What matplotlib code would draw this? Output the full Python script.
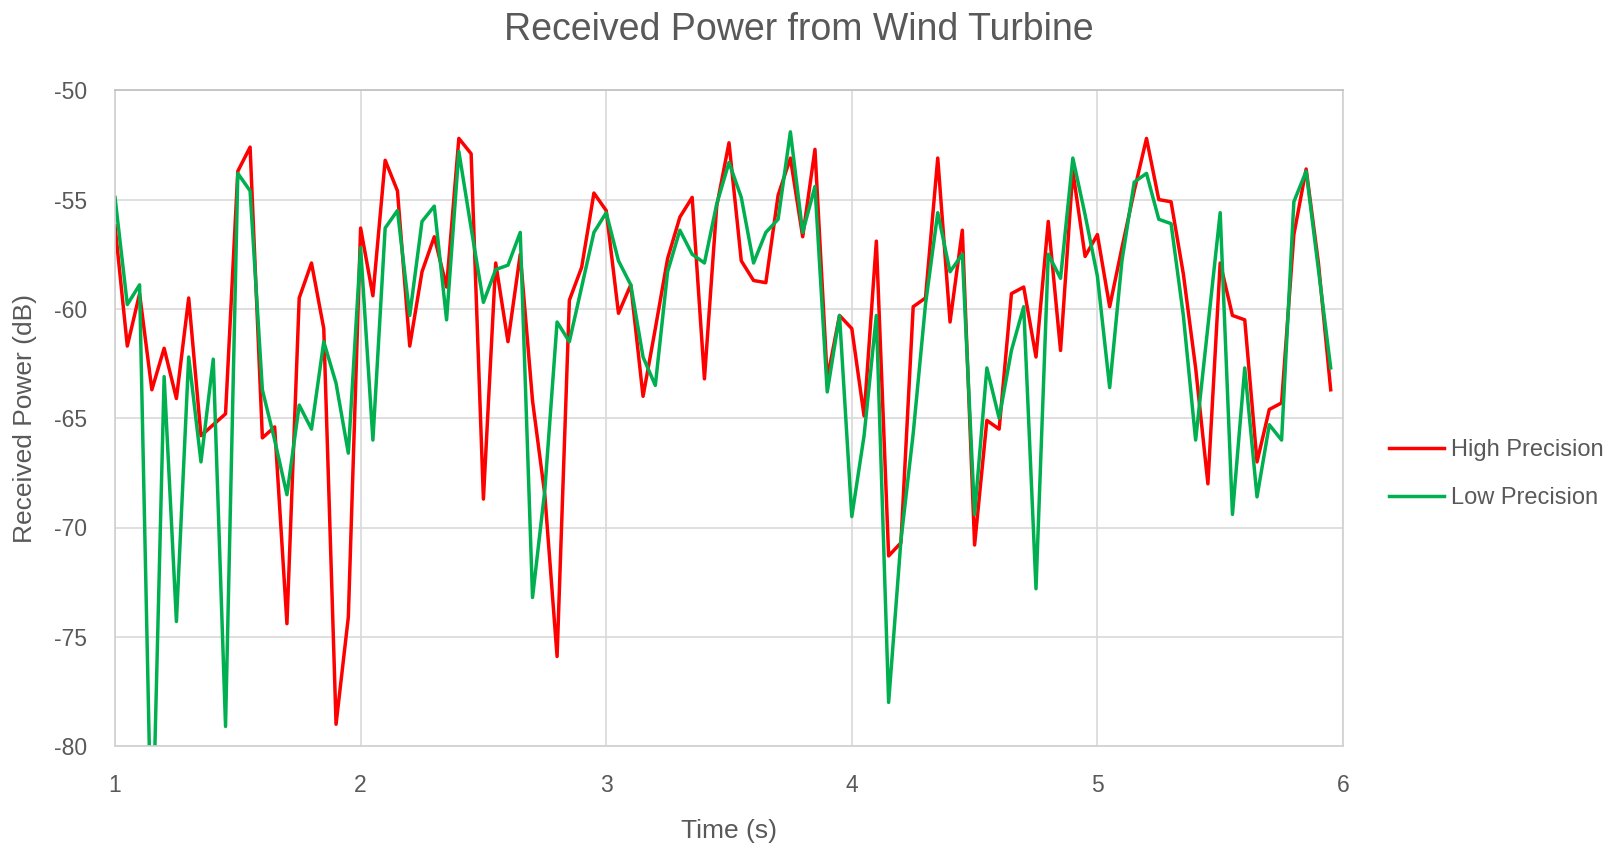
import matplotlib
matplotlib.use("Agg")
import matplotlib.pyplot as plt
import numpy as np

plt.rcParams['font.family'] = ['Liberation Sans', 'DejaVu Sans']
plt.rcParams['axes.unicode_minus'] = False

# time axis: 1.00 .. 5.95 s in 0.05 s steps
time_s = np.round(np.arange(100) * 0.05 + 1.0, 2)

high_precision = [
    -56.2, -61.7, -59.3, -63.7, -61.8, -64.1, -59.5, -65.8, -65.3, -64.8,
    -53.7, -52.6, -65.9, -65.4, -74.4, -59.5, -57.9, -60.9, -79.0, -74.1,
    -56.3, -59.4, -53.2, -54.6, -61.7, -58.3, -56.7, -59.0, -52.2, -52.9,
    -68.7, -57.9, -61.5, -57.5, -64.2, -68.5, -75.9, -59.6, -58.1, -54.7,
    -55.5, -60.2, -58.9, -64.0, -60.9, -57.7, -55.8, -54.9, -63.2, -55.3,
    -52.4, -57.8, -58.7, -58.8, -54.8, -53.1, -56.7, -52.7, -63.2, -60.3,
    -60.9, -64.9, -56.9, -71.3, -70.7, -59.9, -59.5, -53.1, -60.6, -56.4,
    -70.8, -65.1, -65.5, -59.3, -59.0, -62.2, -56.0, -61.9, -53.7, -57.6,
    -56.6, -59.9, -57.2, -54.6, -52.2, -55.0, -55.1, -58.4, -62.7, -68.0,
    -57.9, -60.3, -60.5, -67.0, -64.6, -64.3, -56.6, -53.6, -57.9, -63.7,
]

low_precision = [
    -54.9, -59.8, -58.9, -85.6, -63.1, -74.3, -62.2, -67.0, -62.3, -79.1,
    -53.8, -54.6, -63.7, -66.0, -68.5, -64.4, -65.5, -61.5, -63.4, -66.6,
    -57.2, -66.0, -56.3, -55.5, -60.3, -56.0, -55.3, -60.5, -52.8, -56.3,
    -59.7, -58.2, -58.0, -56.5, -73.2, -68.3, -60.6, -61.5, -59.0, -56.5,
    -55.6, -57.8, -58.9, -62.2, -63.5, -58.3, -56.4, -57.5, -57.9, -55.2,
    -53.3, -54.9, -57.9, -56.5, -55.9, -51.9, -56.5, -54.4, -63.8, -60.3,
    -69.5, -65.8, -60.3, -78.0, -70.6, -65.7, -59.8, -55.6, -58.3, -57.5,
    -69.4, -62.7, -65.0, -61.9, -59.9, -72.8, -57.5, -58.6, -53.1, -55.7,
    -58.5, -63.6, -57.8, -54.2, -53.8, -55.9, -56.1, -60.3, -66.0, -60.8,
    -55.6, -69.4, -62.7, -68.6, -65.3, -66.0, -55.1, -53.7, -58.2, -62.7,
]

text_col = '#595959'

fig = plt.figure(figsize=(16.2, 8.44), dpi=100)
ax = fig.add_axes([0.071, 0.116, 0.758, 0.777])

ax.plot(time_s, high_precision, color='#ff0000', lw=2.5, label='High Precision')
ax.plot(time_s, low_precision, color='#00b050', lw=2.5, label='Low Precision')

ax.set_xlim(1, 6)
ax.set_ylim(-80, -50)
ax.set_xticks([1, 2, 3, 4, 5, 6])
ax.set_yticks([-80, -75, -70, -65, -60, -55, -50])
ax.grid(True, color='#d9d9d9', lw=1.2)
ax.set_axisbelow(True)
for s in ax.spines.values():
    s.set_color('#d0d0d0')
    s.set_linewidth(1.2)
ax.spines['top'].set_color('#bfbfbf')
ax.tick_params(length=0, labelsize=16.5, labelcolor=text_col)
ax.tick_params(axis='x', pad=20)
ax.tick_params(axis='y', pad=20)

ax.set_xlabel('Time (s)', fontsize=19, color=text_col, labelpad=16)
ax.set_ylabel('Received Power (dB)', fontsize=19, color=text_col, labelpad=12)
fig.suptitle('Received Power from Wind Turbine', fontsize=27, color=text_col,
             x=0.493, y=0.986)

fig.legend(loc='center left', bbox_to_anchor=(0.8445, 0.438), frameon=False,
           fontsize=17, labelcolor=text_col, handlelength=2.3,
           handletextpad=0.3, labelspacing=1.1)

fig.savefig('out.png', dpi=100)
